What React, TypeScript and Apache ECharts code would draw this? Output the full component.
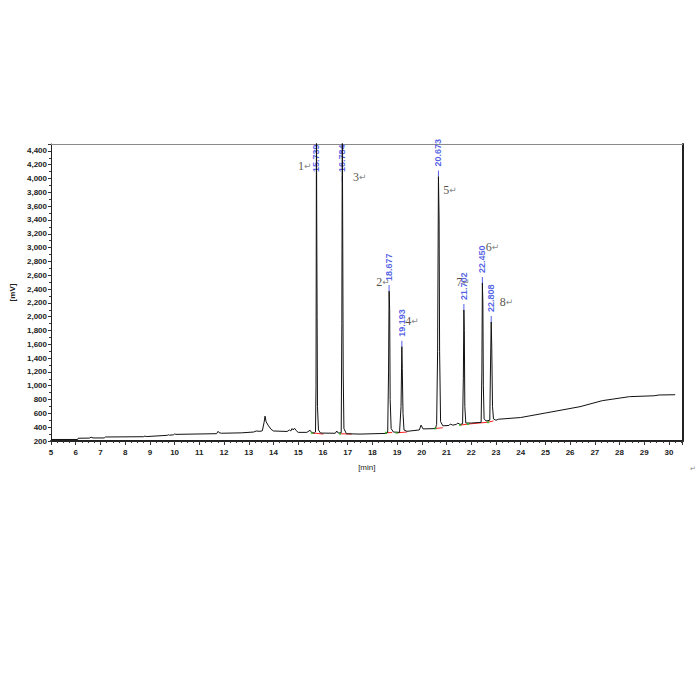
import React, { useEffect, useRef } from 'react';
import * as echarts from 'echarts';

// Chromatogram trace (time in min, signal)
const traceTimes = [
  5.0, 6.08, 6.1, 6.55, 6.62, 6.7, 7.15, 7.2, 8.75, 8.8, 8.85, 9.7, 9.75, 9.8, 9.95, 10.0, 10.05,
  11.7, 11.76, 11.8, 11.9, 12.7, 13.2, 13.3, 13.45, 13.55, 13.62, 13.66, 13.7, 13.78, 13.9, 14.0,
  14.55, 14.65, 14.7, 14.75, 14.8, 14.85, 14.92, 15.0, 15.35, 15.48, 15.55, 15.65, 15.7, 15.72,
  15.739, 15.75, 15.765, 15.78, 15.82, 15.9, 16.5, 16.56, 16.62, 16.74, 16.765, 16.784, 16.8, 16.82,
  16.85, 16.95, 17.5, 18.55, 18.62, 18.655, 18.677, 18.7, 18.72, 18.76, 18.85, 19.1, 19.16, 19.193,
  19.21, 19.24, 19.28, 19.4, 19.9, 19.97, 20.05, 20.55, 20.6, 20.64, 20.673, 20.7, 20.72, 20.76,
  20.85, 21.1, 21.15, 21.25, 21.4, 21.45, 21.55, 21.65, 21.68, 21.702, 21.72, 21.74, 21.78, 22.0,
  22.4, 22.43, 22.45, 22.47, 22.49, 22.52, 22.6, 22.75, 22.78, 22.808, 22.83, 22.86, 22.9, 23.0,
  23.1, 24.0, 25.0, 26.4, 27.3, 28.4, 29.4, 29.6, 30.25,
];
const traceValues = [
  222, 222, 240, 242, 255, 244, 244, 258, 262, 272, 264, 282, 290, 284, 290, 302, 296,
  306, 340, 320, 312, 318, 330, 345, 340, 348, 470, 560, 480, 430, 370, 345,
  338, 360, 345, 380, 360, 385, 350, 325, 325, 355, 320, 315, 330, 1000,
  4800, 3400, 2000, 700, 360, 315, 312, 345, 315, 320, 1900, 4800, 3300, 1200,
  380, 305, 300, 310, 325, 1200, 2370, 2100, 800, 380, 330, 325, 700, 1566,
  1250, 600, 360, 340, 360, 430, 375, 380, 440, 1500, 4028, 3400, 1500, 480,
  420, 425, 445, 430, 440, 460, 440, 450, 1100, 2097, 1800, 700, 460, 460,
  470, 1200, 2488, 2200, 1000, 520, 490, 500, 1300, 1923, 1550, 700, 520, 500,
  515, 540, 605, 697, 784, 842, 855, 866, 870,
];

// Peak annotations
const peakTimes = [15.739, 16.784, 18.677, 19.193, 20.673, 21.702, 22.45, 22.808];
const peakTimeLabels = ['15.739', '16.784', '18.677', '19.193', '20.673', '21.702', '22.450', '22.808'];
const peakLabelBase = [3950, 3950, 2370, 1566, 4028, 2097, 2488, 1923];
const peakNames = ['1', '3', '2', '4', '5', '7', '6', '8'];
const peakNameTimes = [15.27, 17.49, 18.43, 19.6, 21.14, 21.67, 22.86, 23.43];
const peakNameValues = [4183, 4028, 2507, 1942, 3835, 2507, 3005, 2213];

// Integration baselines
const baseStartTimes = [15.55, 16.69, 18.55, 18.98, 20.55, 21.55, 21.87, 22.68];
const baseStartValues = [318, 305, 320, 318, 382, 430, 445, 472];
const baseEndTimes = [16.02, 17.16, 18.8, 19.4, 20.85, 21.87, 22.68, 22.9];
const baseEndValues = [300, 300, 322, 330, 392, 445, 472, 490];

const xLabelFont = 'Liberation Sans Narrow, Liberation Sans, Arial, sans-serif';

export default function App() {
  const ref = useRef<HTMLDivElement>(null);
  useEffect(() => {
    if (!ref.current) return;
    const chart = echarts.init(ref.current, undefined, { renderer: 'svg' });

    const traceData = traceTimes.map((t, i) => [t, traceValues[i]]);
    const baseData: any[] = [];
    baseStartTimes.forEach((t, i) => {
      baseData.push([t, baseStartValues[i]]);
      baseData.push([baseEndTimes[i], baseEndValues[i]]);
      baseData.push([null, null]);
    });
    const greenData = baseStartTimes.map((t, i) => [t, baseStartValues[i]]);

    chart.setOption({
      animation: false,
      backgroundColor: '#ffffff',
      grid: { left: 51, right: 17.4, top: 144, bottom: 259, containLabel: false },
      xAxis: [
        {
          type: 'value',
          min: 5,
          max: 30.55,
          interval: 1,
          name: '[min]',
          nameLocation: 'middle',
          nameGap: 22,
          nameTextStyle: { fontSize: 8, color: '#222', fontFamily: xLabelFont },
          axisLine: { show: true, lineStyle: { color: '#222', width: 2 } },
          axisTick: { show: true, inside: false, length: 4, lineStyle: { color: '#333' } },
          minorTick: { show: true, splitNumber: 4, length: 2, lineStyle: { color: '#333' } },
          splitLine: { show: false },
          minorSplitLine: { show: false },
          axisLabel: {
            margin: 7,
            fontSize: 8,
            color: '#222',
            fontWeight: 'bold',
            fontFamily: xLabelFont,
            showMaxLabel: false,
            formatter: (v: number) => (Number.isInteger(v) ? String(v) : ''),
          },
        },
        {
          type: 'value',
          position: 'top',
          min: 5,
          max: 30.55,
          axisLine: { show: true, lineStyle: { color: '#8a8a8a', width: 1 } },
          axisTick: { show: false },
          axisLabel: { show: false },
          splitLine: { show: false },
        },
      ],
      yAxis: [
        {
          type: 'value',
          min: 200,
          max: 4500,
          interval: 200,
          name: '[mV]',
          nameLocation: 'middle',
          nameGap: 23,
          nameTextStyle: { fontSize: 8, color: '#222', fontFamily: xLabelFont, fontWeight: 'bold' },
          axisLine: { show: true, lineStyle: { color: '#222', width: 1 } },
          axisTick: { show: true, inside: false, length: 3, lineStyle: { color: '#333' } },
          minorTick: { show: true, splitNumber: 2, length: 2, lineStyle: { color: '#333' } },
          splitLine: { show: false },
          minorSplitLine: { show: false },
          axisLabel: {
            margin: 4,
            fontSize: 8,
            color: '#222',
            fontWeight: 'bold',
            fontFamily: xLabelFont,
            showMaxLabel: false,
            formatter: (v: number) => (v % 200 === 0 ? v.toLocaleString('en-US') : ''),
          },
        },
        {
          type: 'value',
          position: 'right',
          min: 200,
          max: 4500,
          axisLine: { show: true, lineStyle: { color: '#222', width: 2 } },
          axisTick: { show: false },
          axisLabel: { show: false },
          splitLine: { show: false },
        },
      ],
      series: [
        {
          name: 'rt labels',
          type: 'scatter',
          z: 1,
          symbol: 'rect',
          symbolSize: [1, 6],
          symbolOffset: [0, -3],
          itemStyle: { color: '#2a3ae0' },
          data: peakTimes.map((t, i) => ({ value: [t, peakLabelBase[i]], name: peakTimeLabels[i] })),
          label: {
            show: true,
            formatter: '{b}',
            position: 'top',
            distance: 4,
            rotate: 90,
            align: 'left',
            verticalAlign: 'middle',
            fontSize: 9,
            fontWeight: 'bold',
            color: '#2a3ae0',
            fontFamily: 'Liberation Sans, Arial, sans-serif',
          },
          silent: true,
        },
        {
          name: 'baseline',
          type: 'line',
          z: 2,
          data: baseData,
          connectNulls: false,
          showSymbol: false,
          symbol: 'none',
          lineStyle: { color: '#ff2020', width: 1 },
          silent: true,
        },
        {
          name: 'trace',
          type: 'line',
          z: 3,
          data: traceData,
          showSymbol: false,
          symbol: 'none',
          clip: true,
          lineStyle: { color: '#111', width: 1 },
          silent: true,
        },
        {
          name: 'starts',
          type: 'scatter',
          z: 4,
          symbol: 'rect',
          symbolSize: 2,
          itemStyle: { color: '#22bb22' },
          data: greenData,
          silent: true,
        },
        {
          name: 'peak numbers',
          type: 'scatter',
          z: 5,
          symbolSize: 0,
          data: peakNames.map((n, i) => ({ value: [peakNameTimes[i], peakNameValues[i]], name: n })),
          label: {
            show: true,
            position: 'inside',
            formatter: (p: any) => `{n|${p.name}}{a|↵}`,
            rich: {
              n: { fontSize: 12, color: '#2a1e12', fontFamily: 'Liberation Serif, Times New Roman, serif' },
              a: { fontSize: 9, color: '#666', fontFamily: 'DejaVu Sans, sans-serif' },
            },
          },
          silent: true,
        },
      ],
      graphic: [
        {
          type: 'text',
          left: 690,
          top: 465,
          style: { text: '↵', fontSize: 7, fill: '#888' },
        },
      ],
    });

    return () => chart.dispose();
  }, []);

  return (
    <div
      ref={ref}
      style={{ position: 'absolute', left: 0, top: 0, width: 700, height: 700 }}
    />
  );
}
